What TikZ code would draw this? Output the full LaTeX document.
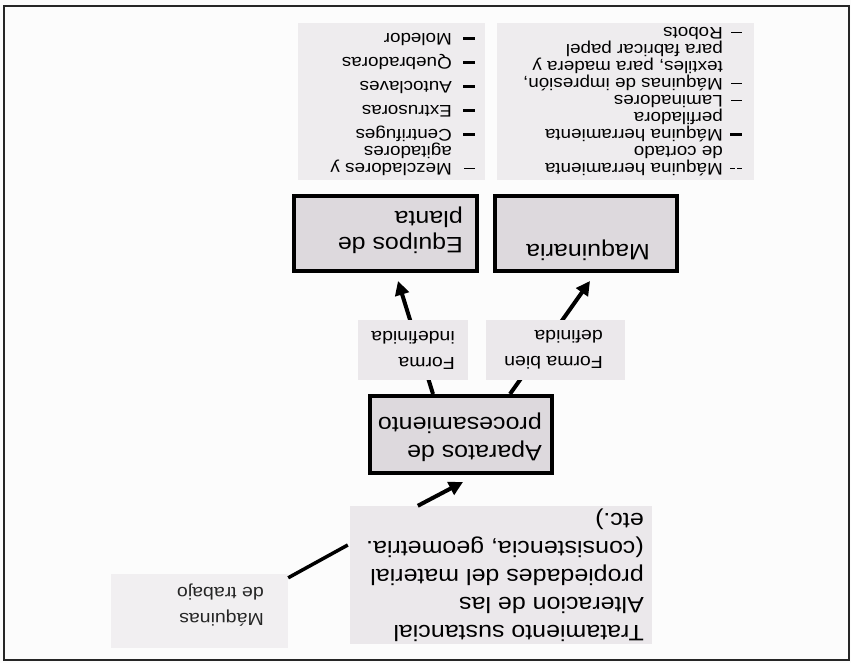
\documentclass[tikz,border=0pt]{standalone}
\usepackage{fontspec}
\setmainfont{Liberation Sans}
\newfontfamily\sfx[FakeStretch=1.12]{Liberation Sans}
\usetikzlibrary{arrows.meta}
\definecolor{boxfill}{HTML}{DDD9DD}
\definecolor{labfill}{HTML}{EBE8EB}
\definecolor{listfill}{HTML}{EEECEE}
\definecolor{tratfill}{HTML}{EBE8EB}
\definecolor{maqtfill}{HTML}{F1EFF1}
\newlength{\lbw}
\newcommand{\lbthin}{\makebox[\lbw][l]{\rule[4pt]{11pt}{1.3pt}}}
\newcommand{\lbthick}{\makebox[\lbw][l]{\rule[3pt]{12pt}{3.5pt}}}
\newcommand{\lbdd}{\makebox[\lbw][l]{\rule[4pt]{4.5pt}{1.3pt}\hspace{2.5pt}\rule[4pt]{4.5pt}{1.3pt}}}
\newcommand{\lbind}{\hspace*{\lbw}}
\begin{document}
\begin{tikzpicture}[x=1pt,y=-1pt,
  txt/.style={rotate=180, anchor=west, inner sep=0pt, align=left},
  thickbox/.style={draw=black, line width=4pt, fill=boxfill, inner sep=0pt},
  softbox/.style={fill=#1, draw=none, inner sep=0pt},
  arr/.style={line width=4pt, -{Triangle[length=14pt,width=14pt]}},
  bigtext/.style={font={\sfx\fontsize{22.3}{26}\selectfont}},
  labtext/.style={font={\sfx\fontsize{17.4}{26}\selectfont}},
  listtext/.style={font={\sfx\fontsize{16.8}{17}\selectfont}}
]
\useasboundingbox (0,0) rectangle (851,663);
\fill[white!98!gray] (0,0) rectangle (851,663);
\draw[line width=2.5pt, black!85] (4,6) rectangle (849,660);

% list boxes
\node[softbox=listfill, minimum width=257pt, minimum height=157pt] (listA) at (625.5,101.5) {};
\node[softbox=listfill, minimum width=187pt, minimum height=157pt] (listB) at (391.5,101.5) {};

% main boxes
\node[thickbox, minimum width=182pt, minimum height=75pt] (maq) at (586,233.5) {};
\node[thickbox, minimum width=183pt, minimum height=75pt] (equ) at (385.5,233.5) {};
\node[thickbox, minimum width=182pt, minimum height=77pt] (apa) at (461,434.5) {};
\node[softbox=tratfill, minimum width=302pt, minimum height=138pt] (trat) at (501,575) {};
\node[softbox=maqtfill, minimum width=177pt, minimum height=74pt] (maqt) at (199.5,611) {};

% connectors
\draw[arr] ([xshift=68pt]trat.north west) -- ([xshift=95pt,yshift=-7pt]apa.south west);
\draw[arr] ([xshift=49pt]apa.north) -- ([xshift=4pt,yshift=-8pt]maq.south);
\draw[arr] ([xshift=-28pt]apa.north) -- ([xshift=12.5pt,yshift=-8pt]equ.south);
\draw[line width=3.5pt] ([yshift=-4pt]maqt.north east) -- ([xshift=-2pt,yshift=30pt]trat.west);

% label boxes
\node[softbox=labfill, minimum width=139pt, minimum height=60pt] (labA) at (555.5,350) {};
\node[softbox=labfill, minimum width=110pt, minimum height=60pt] (labB) at (413,350) {};

% texts
\node[txt, bigtext] (tmaq) at (650,250) {Maquinaria};
\node[txt, bigtext] (tequ) at (463,230) {Equipos de\\planta};
\node[txt, labtext] (tlabA) at (603,350) {Forma bien\\definida};
\node[txt, labtext] (tlabB) at (455,350) {Forma\\indefinida};
\node[txt, font={\sfx\fontsize{22.3}{28}\selectfont}] (tapa) at (542,437) {Aparatos de\\procesamiento};
\node[txt, font={\sfx\fontsize{22.3}{28}\selectfont}] (ttrat) at (644,575) {Tratamiento sustancial\\Alteracion de las\\propiedades del material\\(consistencia, geometria.\\etc.)};
\node[txt, labtext, text=black!85] (tmaqt) at (264,605) {Máquinas\\de trabajo};

\node[txt, listtext, execute at begin node={\setlength{\lbw}{19pt}}] (tlistA) at (742,102)
 {\lbdd Máquina herramienta\\ \lbind de cortado\\ \lbthick Máquina herramienta\\ \lbind perfiladora\\ \lbthin Laminadores\\ \lbthin Máquinas de impresión,\\ \lbind textiles, para madera y\\ \lbind para fabricar papel\\ \lbthin Robots};
\node[txt, listtext, execute at begin node={\setlength{\lbw}{23pt}}] (tlistB) at (475,105)
 {\lbthin Mezcladores y\\ \lbind agitadores\\ \lbthick Centrifuges\\[7pt] \lbthick Extrusoras\\[7pt] \lbthick Autoclaves\\[7pt] \lbthick Quebradoras\\[7pt] \lbthick Moledor};
\end{tikzpicture}
\end{document}
